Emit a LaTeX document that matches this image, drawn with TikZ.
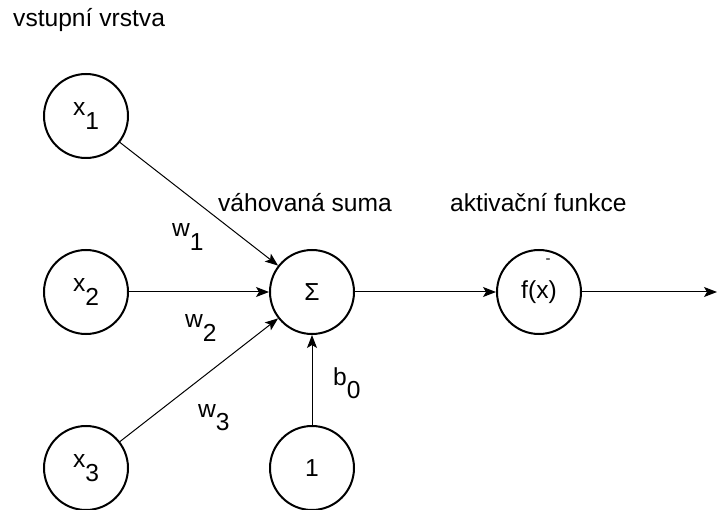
\documentclass[tikz,border=0pt]{standalone}
\usepackage{fontspec}
\setmainfont{Liberation Sans}
\usetikzlibrary{arrows.meta}
% subscript set at full size, dropped below the baseline
\newcommand{\lowsub}[1]{\raisebox{-0.55em}{#1}}
\tikzset{
  lbl/.style={font=\fontsize{24.6}{28}\selectfont, inner sep=0pt},
  neuron/.style={circle, draw, line width=2pt, minimum size=84pt, inner sep=0pt,
                 font=\fontsize{24.6}{28}\selectfont},
  conn/.style={line width=1pt, -{Stealth[length=13pt, width=10pt, inset=3pt]}},
}
\begin{document}
\begin{tikzpicture}[x=1pt, y=-1pt]
  \useasboundingbox (0,0) rectangle (717,510);

  % nodes
  \node[neuron] (x1)  at (86,116)  {x\lowsub{1}};
  \node[neuron] (x2)  at (86,292)  {x\lowsub{2}};
  \node[neuron] (x3)  at (86,468)  {x\lowsub{3}};
  \node[neuron] (sum) at (312,292) {Σ};
  \node[neuron] (one) at (312,468) {1};
  \node[neuron] (act) at (539,292) {f(x)};
  \node[lbl, font=\fontsize{15}{15}\selectfont] (tick) at (548,261) {-};
  \coordinate (out) at (717,292);

  % titles
  \node[lbl, anchor=base west] (tin)  at (13,27)   {vstupní vrstva};
  \node[lbl, anchor=base east] (tsum) at (392,212) {váhovaná suma};
  \node[lbl, anchor=base west] (tact) at (450,212) {aktivační funkce};

  % connectors
  \draw[conn] (x1) -- (sum);
  \draw[conn] (x2) -- (sum);
  \draw[conn] (x3) -- (sum);
  \draw[conn] (one) -- (sum);
  \draw[conn] (sum) -- (act);
  \draw[conn] (act) -- (out);

  % weights and bias
  \node[lbl, anchor=base west] (w1) at (172,237) {w\lowsub{1}};
  \node[lbl, anchor=base west] (w2) at (185,328) {w\lowsub{2}};
  \node[lbl, anchor=base west] (w3) at (198,417) {w\lowsub{3}};
  \node[lbl, anchor=base west] (b0) at (333,385) {b\lowsub{0}};
\end{tikzpicture}
\end{document}
